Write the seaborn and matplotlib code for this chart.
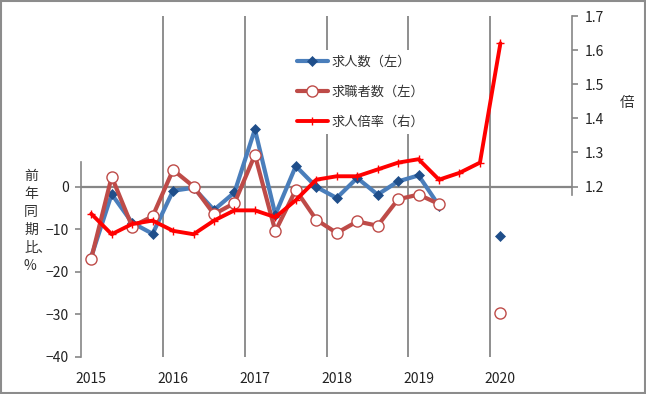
import numpy as np
import pandas as pd
import seaborn as sns
import matplotlib.pyplot as plt

# 四半期データ (2015Q1 - 2020Q1)
years = ['2015', '2016', '2017', '2018', '2019', '2020']
quarters = [f'{y}Q{q}' for y in years for q in range(1, 5)]

# 求人数 前年同期比 (%)
job_offers = [-16.5, -1.8, -8.5, -11.1, -1.0, -0.3, -5.5, -1.4, 13.4, -6.6, 4.8, -0.1,
              -2.7, 2.0, -1.9, 1.2, 2.6, -4.5, np.nan, np.nan, -11.5]
# 求職者数 前年同期比 (%)
job_seekers = [-16.9, 2.3, -9.4, -7.0, 3.9, 0.0, -6.5, -3.9, 7.4, -10.5, -0.8, -7.8,
               -10.9, -8.2, -9.2, -3.0, -1.9, -4.1, np.nan, np.nan, -29.7]
# 求人倍率 (倍)
ratio = [1.12, 1.06, 1.09, 1.10, 1.07, 1.06, 1.10, 1.13, 1.13, 1.11, 1.16, 1.22,
         1.23, 1.23, 1.25, 1.27, 1.28, 1.22, 1.24, 1.27, 1.62]

df = pd.DataFrame({'pos': np.arange(len(ratio)), 'quarter': quarters[:len(ratio)],
                   'offers': job_offers, 'seekers': job_seekers, 'ratio': ratio})
main = df.iloc[:18]
last = df.iloc[[20]]

sns.set_style('white')
plt.rcParams['font.family'] = ['Noto Sans CJK JP', 'DejaVu Sans']

BLUE = '#4A7EBB'
NAVY = '#1F4E8A'
BROWN = '#BE4B48'
RED = '#FF0000'
GRID = '#868686'

fig = plt.figure(figsize=(6.46, 3.94), dpi=100)
ax = fig.add_axes([81 / 646, 1 - 357 / 394, (572 - 81) / 646, (357 - 16) / 394])
ax2 = ax.twinx()

for x in [3.5, 7.5, 11.5, 15.5, 19.5]:
    ax.axvline(x, color=GRID, lw=1.3, zorder=0)
ax.axhline(0, color=GRID, lw=1.6, zorder=0)

sns.lineplot(data=main, x='pos', y='offers', ax=ax, color=BLUE, lw=3, marker='D',
             markersize=5.5, markerfacecolor=NAVY, markeredgecolor=NAVY,
             markeredgewidth=0.5, label='求人数（左）')
sns.lineplot(data=last, x='pos', y='offers', ax=ax, color=BLUE, marker='D',
             markersize=5.5, markerfacecolor=NAVY, markeredgecolor=NAVY,
             markeredgewidth=0.5, legend=False)
sns.lineplot(data=main, x='pos', y='seekers', ax=ax, color=BROWN, lw=3, marker='o',
             markersize=8, markerfacecolor='white', markeredgecolor=BROWN,
             markeredgewidth=1.0, label='求職者数（左）')
sns.lineplot(data=last, x='pos', y='seekers', ax=ax, color=BROWN, marker='o',
             markersize=8, markerfacecolor='white', markeredgecolor=BROWN,
             markeredgewidth=1.0, legend=False)
sns.lineplot(data=df, x='pos', y='ratio', ax=ax2, color=RED, lw=2.8, marker='+',
             markersize=6, markeredgecolor=RED, markeredgewidth=1.0,
             label='求人倍率（右）')

ax.set_xlim(-0.5, 23.5)
ax.set_ylim(-40, 40)
ax.set_yticks([-40, -30, -20, -10, 0])
ax.set_xticks(range(0, 24, 4))
ax.set_xticklabels(years)
ax.set_xlabel('')
ax.set_ylabel('')
ax2.set_ylim(0.7, 1.7)
ax2.set_yticks([1.2, 1.3, 1.4, 1.5, 1.6, 1.7])
ax2.set_yticklabels(['1.2', '1.3', '1.4', '1.5', '1.6', '1.7'])
ax2.set_ylabel('')

for a in (ax, ax2):
    for s in ('top', 'bottom'):
        a.spines[s].set_visible(False)
ax.spines['right'].set_visible(False)
ax2.spines['left'].set_visible(False)
ax.spines['left'].set_color(GRID)
ax.spines['left'].set_linewidth(1.2)
ax.spines['left'].set_bounds(-40, 5.7)
ax2.spines['right'].set_color(GRID)
ax2.spines['right'].set_linewidth(1.2)
ax2.spines['right'].set_bounds(1.175, 1.7)

ax.tick_params(axis='x', length=0, pad=11, labelsize=10, colors='#222222')
ax.tick_params(axis='y', left=True, length=4, width=1.2, color=GRID, pad=5,
               labelsize=10, labelcolor='#222222')
ax2.tick_params(axis='y', right=True, length=4, width=1.2, color=GRID, pad=5,
                labelsize=10, labelcolor='#222222')

h1, l1 = ax.get_legend_handles_labels()
h2, l2 = ax2.get_legend_handles_labels()
ax.get_legend().remove()
ax2.get_legend().remove()
leg = ax2.legend(h1 + h2, l1 + l2, loc='upper left',
                 bbox_to_anchor=(292 / 646, 1 - 50 / 394), bbox_transform=fig.transFigure,
                 frameon=True, fancybox=False, framealpha=1, facecolor='white',
                 edgecolor='none', fontsize=9.5, handlelength=2.3, handletextpad=0.3,
                 labelspacing=1.3, borderpad=0.4, borderaxespad=0)
for t in leg.get_texts():
    t.set_color('#333333')

fig.text(24 / 646, 1 - 221 / 394, '前\n年\n同\n期\n比､\n%', ha='left', va='center',
         multialignment='left', fontsize=10, linespacing=1.36, color='#333333')
fig.text(627 / 646, 1 - 103 / 394, '倍', ha='center', va='center', fontsize=10.5,
         color='#333333')

fig.add_artist(plt.Rectangle((0.0015, 0.0025), 0.997, 0.995, transform=fig.transFigure,
                             fill=False, ec='#8c8c8c', lw=1.5))

fig.savefig('out.png', dpi=100)
